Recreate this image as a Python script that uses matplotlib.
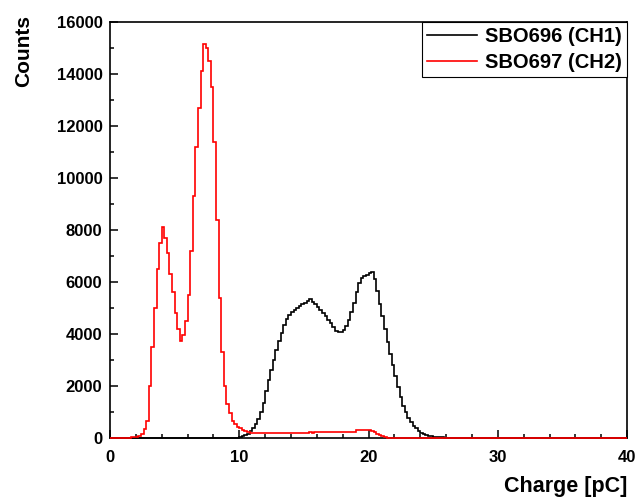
import matplotlib.pyplot as plt
import numpy as np

plt.rcParams['font.family'] = ['Liberation Sans', 'DejaVu Sans']
plt.rcParams['font.weight'] = 'bold'

bin_width = 0.2

# CH1 (SBO696): bins of 0.2 pC starting at 10.0 pC
ch1_start = 10.0
ch1_counts = [20, 60, 110, 170, 260, 380, 530, 750, 1000, 1350,
              1800, 2230, 2620, 3000, 3380, 3720, 4050, 4330, 4560, 4720,
              4830, 4940, 5010, 5080, 5140, 5200, 5260, 5330, 5250, 5150,
              5050, 4920, 4800, 4680, 4530, 4420, 4260, 4100, 4070, 4090,
              4160, 4320, 4520, 4830, 5200, 5620, 5950, 6150, 6230, 6260,
              6330, 6380, 6100, 5650, 5150, 4680, 4200, 3700, 3250, 2800,
              2380, 1950, 1580, 1250, 1000, 780, 620, 480, 370, 260,
              190, 140, 100, 80, 60, 45, 35, 25, 20, 15,
              12, 10, 8, 6, 5, 4, 3, 2, 2, 1]

# CH2 (SBO697): bins of 0.2 pC starting at 1.4 pC
ch2_start = 1.4
ch2_counts = [10, 20, 30, 50, 90, 170, 330, 650, 2000, 3500,
              5000, 6500, 7500, 8100, 7700, 7100, 6300, 5600, 4800, 4200,
              3750, 3950, 4500, 5500, 7200, 9300, 11200, 12700, 14100, 15150,
              15000, 14500, 13500, 11400, 8400, 5400, 3300, 2000, 1300, 950,
              650, 520, 430, 370, 320, 280, 240, 210, 190, 185,
              180, 190, 175, 185, 180, 190, 185, 180, 190, 185,
              195, 190, 185, 200, 195, 190, 205, 200, 210, 205,
              215, 210, 220, 215, 225, 220, 230, 225, 240, 230,
              245, 235, 240, 230, 220, 235, 225, 230, 290, 295,
              290, 300, 295, 300, 280, 220, 160, 110, 70, 35,
              10]

x_min, x_max = 0, 40


def full_range(start, counts):
    # measured bins plus the empty region on both sides of the plot
    edges = [x_min] + list(start + bin_width * np.arange(len(counts) + 1)) + [x_max]
    values = [0] + list(counts) + [0]
    return values, edges


fig = plt.figure(figsize=(6.36, 5.0), dpi=100)
ax = fig.add_axes([0.173, 0.124, 0.813, 0.832])

v1, e1 = full_range(ch1_start, ch1_counts)
v2, e2 = full_range(ch2_start, ch2_counts)
ax.stairs(v1, e1, color='black', linewidth=1.2, label='SBO696 (CH1)',
          zorder=3, clip_on=False)
ax.stairs(v2, e2, color='red', linewidth=1.2, label='SBO697 (CH2)',
          zorder=3, clip_on=False)

ax.set_xlim(x_min, x_max)
ax.set_ylim(0, 16000)
ax.set_xticks(np.arange(0, 41, 10))
ax.set_xticks(np.arange(0, 41, 2), minor=True)
ax.set_yticks(np.arange(0, 16001, 2000))
ax.set_yticks(np.arange(0, 16001, 1000), minor=True)
ax.tick_params(which='both', direction='in', top=False, right=False,
               labelsize=12, width=1.1)
ax.tick_params(which='major', length=5.8)
ax.tick_params(which='minor', length=3)
ax.tick_params(axis='y', pad=5.5)
ax.tick_params(axis='x', pad=8.5)
for s in ax.spines.values():
    s.set_linewidth(1.2)

ax.set_xlabel('Charge [pC]', fontsize=15.5, fontweight='bold', loc='right',
              labelpad=8)
ax.set_ylabel('Counts', fontsize=15, fontweight='bold', loc='top')
ax.yaxis.set_label_coords(-0.149, 1.017)

leg = ax.legend(loc='upper right', borderaxespad=0, fancybox=False,
                edgecolor='black', fontsize=14.5, handlelength=2.5,
                handletextpad=0.4, framealpha=1, borderpad=0.25,
                labelspacing=0.35)
leg.get_frame().set_linewidth(0.8)

plt.savefig('out.png', dpi=100)
